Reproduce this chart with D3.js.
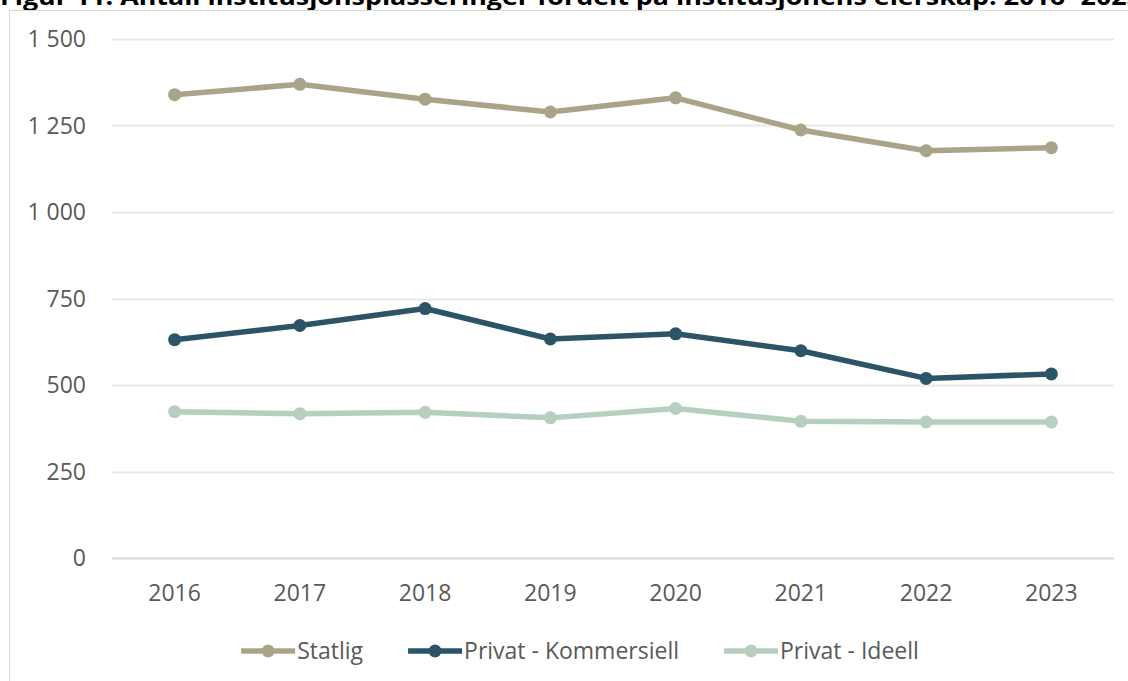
<!DOCTYPE html>
<html>
<head>
<meta charset="utf-8">
<script src="https://cdn.jsdelivr.net/npm/d3@7"></script>
<style>
  body { margin: 0; background: #fff; }
  text { font-family: "Open Sans", sans-serif; }
</style>
</head>
<body>
<script>
const years = ['2016', '2017', '2018', '2019', '2020', '2021', '2022', '2023'];
const statlig = [1339, 1369, 1326, 1289, 1330, 1237, 1177, 1186];
const kommersiell = [631, 672, 721, 633, 648, 599, 519, 532];
const ideell = [423, 417, 421, 405, 432, 395, 393, 393];
const yTicks = [0, 250, 500, 750, 1000, 1250, 1500];
const seriesNames = ['Statlig', 'Privat - Kommersiell', 'Privat - Ideell'];
const title = 'Figur 11: Antall institusjonsplasseringer fordelt på institusjonens eierskap. 2016- 2023';

const colors = ['#a9a488', '#2b5566', '#b6cfbf'];
const width = 1128;
const height = 681;

let locale = d3.formatLocale({ decimal: ',', thousands: ' ', grouping: [3], currency: ['', ''] });
let fmt = locale.format(',d');

let svg = d3.select('body')
    .append('svg')
    .attr('width', width)
    .attr('height', height);

// title, mostly clipped off the top like in the source
svg.append('text')
    .attr('x', 0)
    .attr('y', 5)
    .attr('font-size', 24)
    .attr('font-weight', 'bold')
    .attr('fill', '#000')
    .attr('textLength', 1142)
    .attr('lengthAdjust', 'spacingAndGlyphs')
    .text(title);

// chart frame
svg.append('rect')
    .attr('x', 9.5)
    .attr('y', 10.5)
    .attr('width', 1300)
    .attr('height', 800)
    .attr('fill', 'none')
    .attr('stroke', '#d9d9d9');

let x = d3.scaleBand().domain(years).range([112, 1114]);
let y = d3.scaleLinear().domain([0, 1500]).range([558, 39]);
let cx = (d) => x(d) + x.bandwidth() / 2;

// gridlines
svg.append('g')
    .selectAll('line')
    .data(yTicks)
    .enter()
    .append('line')
    .attr('x1', 112)
    .attr('x2', 1114)
    .attr('y1', d => Math.round(y(d)) + 0.5)
    .attr('y2', d => Math.round(y(d)) + 0.5)
    .attr('stroke', d => d === 0 ? '#d9d9d9' : '#e8e8e8')
    .attr('stroke-width', 2);

// y labels
svg.append('g')
    .selectAll('text')
    .data(yTicks)
    .enter()
    .append('text')
    .attr('x', 86)
    .attr('y', d => y(d))
    .attr('dy', '0.35em')
    .attr('text-anchor', 'end')
    .attr('font-size', 23)
    .attr('fill', '#595959')
    .text(d => fmt(d));

// x labels
svg.append('g')
    .selectAll('text')
    .data(years)
    .enter()
    .append('text')
    .attr('x', d => cx(d))
    .attr('y', 601)
    .attr('text-anchor', 'middle')
    .attr('font-size', 23)
    .attr('fill', '#595959')
    .text(d => d);

let series = [statlig, kommersiell, ideell].map((vals, i) => ({
    name: seriesNames[i],
    color: colors[i],
    points: vals.map((v, j) => ({ year: years[j], value: v }))
}));

let line = d3.line()
    .x(d => cx(d.year))
    .y(d => y(d.value));

let groups = svg.append('g')
    .selectAll('g')
    .data(series)
    .enter()
    .append('g');

groups.append('path')
    .attr('d', d => line(d.points))
    .attr('fill', 'none')
    .attr('stroke', d => d.color)
    .attr('stroke-width', 5.5)
    .attr('stroke-linejoin', 'round');

groups.selectAll('circle')
    .data(d => d.points.map(p => ({ ...p, color: d.color })))
    .enter()
    .append('circle')
    .attr('cx', d => cx(d.year))
    .attr('cy', d => y(d.value))
    .attr('r', 6.5)
    .attr('fill', d => d.color);

// legend
let legend = svg.append('g');
let items = legend.selectAll('g')
    .data(series)
    .enter()
    .append('g');

items.append('line')
    .attr('x1', 0)
    .attr('x2', 54)
    .attr('y1', 0)
    .attr('y2', 0)
    .attr('stroke', d => d.color)
    .attr('stroke-width', 5.5);

items.append('circle')
    .attr('cx', 27)
    .attr('cy', 0)
    .attr('r', 6.5)
    .attr('fill', d => d.color);

items.append('text')
    .attr('x', 56)
    .attr('y', 0)
    .attr('dy', '0.35em')
    .attr('font-size', 23)
    .attr('fill', '#595959')
    .text(d => d.name);

let gap = 45;
let offset = 0;
items.each(function () {
    let w = 56 + d3.select(this).select('text').node().getComputedTextLength();
    d3.select(this).attr('transform', `translate(${offset},0)`);
    offset += w + gap;
});
let total = offset - gap;
legend.attr('transform', `translate(${580 - total / 2},651)`);
</script>
</body>
</html>
